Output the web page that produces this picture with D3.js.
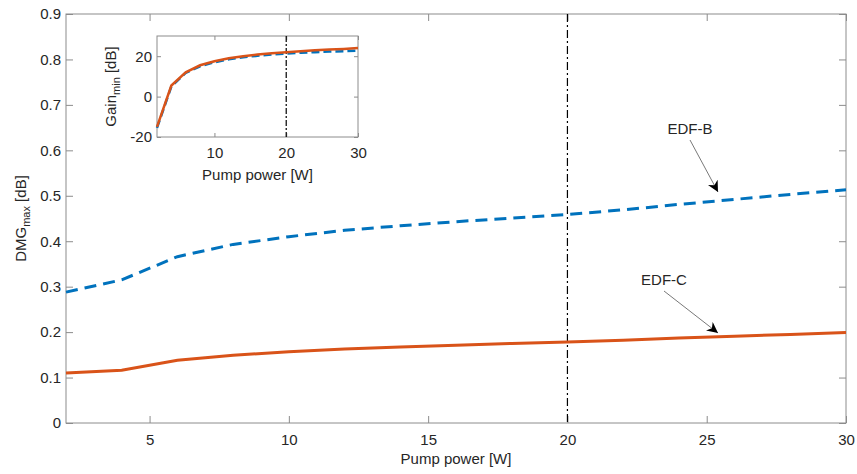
<!doctype html>
<html>
<head>
<meta charset="utf-8">
<style>
  body { margin: 0; background: #fff; }
  text { font-family: "Liberation Sans", Arial, sans-serif; fill: #262626; }
  .axis path, .axis line { stroke: #8c8c8c; }
</style>
<script src="https://d3js.org/d3.v7.min.js"></script>
</head>
<body>
<svg width="857" height="474"></svg>
<script>
// pump power [W]
var power = [2, 4, 6, 8, 10, 12, 14, 16, 18, 20, 22, 24, 26, 28, 30];
// DMG max [dB]
var dmgB = [0.288, 0.315, 0.366, 0.393, 0.410, 0.424, 0.434, 0.443, 0.451, 0.459, 0.469, 0.481, 0.492, 0.503, 0.513];
var dmgC = [0.110, 0.116, 0.138, 0.149, 0.157, 0.163, 0.167, 0.171, 0.175, 0.178, 0.182, 0.187, 0.191, 0.195, 0.199];
// Gain min [dB] (inset)
var gainB = [-15.5, 5, 11.8, 15, 17, 18.5, 19.5, 20.2, 20.8, 21.3, 21.7, 22, 22.3, 22.5, 22.8];
var gainC = [-15, 5.5, 12, 15.5, 17.5, 19, 20, 20.8, 21.5, 22, 22.5, 23, 23.3, 23.6, 24];
var xTicks = [5, 10, 15, 20, 25, 30];
var yTicks = [0, 0.1, 0.2, 0.3, 0.4, 0.5, 0.6, 0.7, 0.8, 0.9];
var insetXTicks = [10, 20, 30];
var insetYTicks = [-20, 0, 20];
var marker = 20;

var svg = d3.select("svg");
var blue = "#0072BD", orange = "#D95319";
var fs = "15px";

var m = {left: 66, right: 846, top: 14, bottom: 423};
var x = d3.scaleLinear().domain([2, 30]).range([m.left, m.right]);
var y = d3.scaleLinear().domain([0, 0.9]).range([m.bottom, m.top]);

var tl = 7;
// box
svg.append("rect").attr("x", m.left).attr("y", m.top)
   .attr("width", m.right - m.left).attr("height", m.bottom - m.top)
   .attr("fill", "none").attr("stroke", "#8c8c8c");

svg.append("g").attr("class", "axis").attr("transform", "translate(0," + m.bottom + ")")
   .call(d3.axisBottom(x).tickValues(xTicks).tickSizeInner(-tl).tickSizeOuter(0).tickPadding(11));
svg.append("g").attr("class", "axis").attr("transform", "translate(0," + m.top + ")")
   .call(d3.axisTop(x).tickValues(xTicks).tickSizeInner(-tl).tickSizeOuter(0).tickFormat(""));
svg.append("g").attr("class", "axis").attr("transform", "translate(" + m.left + ",0)")
   .call(d3.axisLeft(y).tickValues(yTicks).tickSizeInner(-tl).tickSizeOuter(0).tickPadding(5)
   .tickFormat(function(d){ return d === 0 ? "0" : d3.format(".1f")(d); }));
svg.append("g").attr("class", "axis").attr("transform", "translate(" + m.right + ",0)")
   .call(d3.axisRight(y).tickValues(yTicks).tickSizeInner(-tl).tickSizeOuter(0).tickFormat(""));
svg.selectAll(".axis .domain").remove();
svg.selectAll(".axis text").attr("font-size", fs).attr("font-family", "Liberation Sans, Arial, sans-serif").attr("fill", "#262626");

// vertical marker
svg.append("line").attr("x1", x(marker)).attr("x2", x(marker)).attr("y1", m.top).attr("y2", m.bottom)
   .attr("stroke", "#000").attr("stroke-width", 1.2).attr("stroke-dasharray", "8,3,2,3");

var line = d3.line().x(function(d){ return x(d[0]); }).y(function(d){ return y(d[1]); });
svg.append("path").datum(d3.zip(power, dmgB)).attr("d", line)
   .attr("fill", "none").attr("stroke", blue).attr("stroke-width", 3).attr("stroke-dasharray", "12,7");
svg.append("path").datum(d3.zip(power, dmgC)).attr("d", line)
   .attr("fill", "none").attr("stroke", orange).attr("stroke-width", 3);

// axis labels
svg.append("text").attr("x", (m.left + m.right) / 2).attr("y", 464).attr("text-anchor", "middle")
   .attr("font-size", fs).text("Pump power [W]");
var yl = svg.append("text").attr("transform", "translate(26," + ((m.top + m.bottom) / 2) + ") rotate(-90)")
   .attr("text-anchor", "middle").attr("font-size", fs);
yl.append("tspan").text("DMG");
yl.append("tspan").attr("font-size", "11px").attr("dy", 4).text("max");
yl.append("tspan").attr("dy", -4).text(" [dB]");

// annotations
svg.append("defs").append("marker").attr("id", "arr").attr("viewBox", "0 0 10 10")
   .attr("refX", 10).attr("refY", 5).attr("markerWidth", 11).attr("markerHeight", 11)
   .attr("markerUnits", "userSpaceOnUse").attr("orient", "auto")
   .append("path").attr("d", "M0,0 L10,5 L0,10 L3,5 Z").attr("fill", "#000");

function note(label, tx, ty, ax, ay) {
  svg.append("text").attr("x", tx).attr("y", ty).attr("text-anchor", "middle")
     .attr("font-size", fs).text(label);
  svg.append("line").attr("x1", tx).attr("y1", ty + 6).attr("x2", ax).attr("y2", ay)
     .attr("stroke", "#555").attr("stroke-width", 0.8).attr("marker-end", "url(#arr)");
}
note("EDF-B", 690, 134, 718, 192);
note("EDF-C", 664, 285, 718, 333);

// inset
var im = {left: 157, right: 358, top: 36, bottom: 137};
var ix = d3.scaleLinear().domain([2, 30]).range([im.left, im.right]);
var iy = d3.scaleLinear().domain([-20, 30]).range([im.bottom, im.top]);
var itl = 4;
svg.append("rect").attr("x", im.left).attr("y", im.top)
   .attr("width", im.right - im.left).attr("height", im.bottom - im.top)
   .attr("fill", "#fff").attr("stroke", "#8c8c8c");
svg.append("g").attr("class", "axis iax").attr("transform", "translate(0," + im.bottom + ")")
   .call(d3.axisBottom(ix).tickValues(insetXTicks).tickSizeInner(-itl).tickSizeOuter(0).tickPadding(10));
svg.append("g").attr("class", "axis iax").attr("transform", "translate(0," + im.top + ")")
   .call(d3.axisTop(ix).tickValues(insetXTicks).tickSizeInner(-itl).tickSizeOuter(0).tickFormat(""));
svg.append("g").attr("class", "axis iax").attr("transform", "translate(" + im.left + ",0)")
   .call(d3.axisLeft(iy).tickValues(insetYTicks).tickSizeInner(-itl).tickSizeOuter(0).tickPadding(5)
   .tickFormat(function(d){ return d < 0 ? "-" + Math.abs(d) : d; }));
svg.append("g").attr("class", "axis iax").attr("transform", "translate(" + im.right + ",0)")
   .call(d3.axisRight(iy).tickValues(insetYTicks).tickSizeInner(-itl).tickSizeOuter(0).tickFormat(""));
svg.selectAll(".iax .domain").remove();
svg.selectAll(".iax text").attr("font-size", fs).attr("font-family", "Liberation Sans, Arial, sans-serif").attr("fill", "#262626");

svg.append("line").attr("x1", ix(marker)).attr("x2", ix(marker)).attr("y1", im.top).attr("y2", im.bottom)
   .attr("stroke", "#000").attr("stroke-width", 1.2).attr("stroke-dasharray", "6,2,2,2");
var iline = d3.line().x(function(d){ return ix(d[0]); }).y(function(d){ return iy(d[1]); });
svg.append("path").datum(d3.zip(power, gainB)).attr("d", iline)
   .attr("fill", "none").attr("stroke", blue).attr("stroke-width", 2.5).attr("stroke-dasharray", "8,4");
svg.append("path").datum(d3.zip(power, gainC)).attr("d", iline)
   .attr("fill", "none").attr("stroke", orange).attr("stroke-width", 2.5);

svg.append("text").attr("x", (im.left + im.right) / 2).attr("y", 180).attr("text-anchor", "middle")
   .attr("font-size", fs).text("Pump power [W]");
var iyl = svg.append("text").attr("transform", "translate(116," + ((im.top + im.bottom) / 2) + ") rotate(-90)")
   .attr("text-anchor", "middle").attr("font-size", fs);
iyl.append("tspan").text("Gain");
iyl.append("tspan").attr("font-size", "11px").attr("dy", 4).text("min");
iyl.append("tspan").attr("dy", -4).text(" [dB]");
</script>
</body>
</html>
